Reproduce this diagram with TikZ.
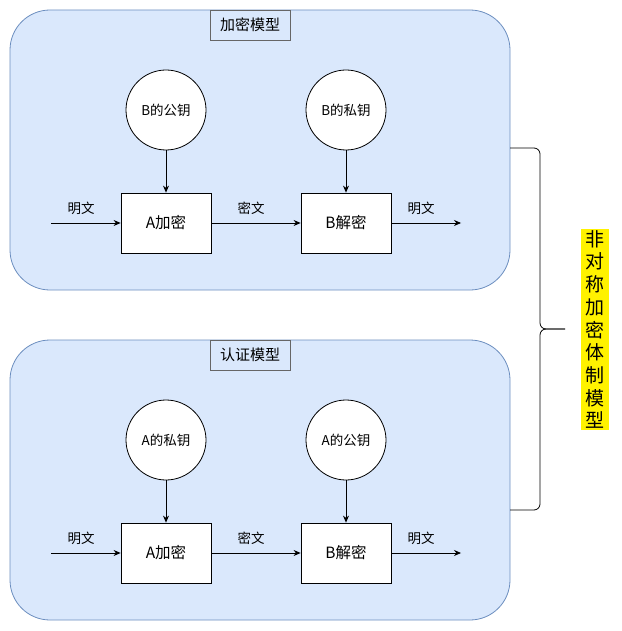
\documentclass[tikz,border=0pt]{standalone}
\usepackage{fontspec}
\setmainfont{Noto Sans CJK SC}
\usetikzlibrary{arrows.meta}
\definecolor{cfill}{HTML}{DAE8FC}
\definecolor{cline}{HTML}{6C8EBF}
\definecolor{tline}{HTML}{666666}
\tikzset{
  container/.style={draw=cline, fill=cfill, rounded corners=40pt, line width=0.8pt},
  titlebox/.style={draw=tline, fill=cfill, minimum width=80pt, minimum height=30pt, inner sep=0pt, font=\fontsize{15}{17}\selectfont, line width=0.8pt},
  keycirc/.style={draw, fill=white, circle, minimum size=80pt, inner sep=0pt, font=\fontsize{13.5}{15}\selectfont, line width=0.8pt},
  procbox/.style={draw, fill=white, minimum width=90pt, minimum height=60pt, inner sep=0pt, font=\fontsize{15.5}{17}\selectfont, line width=0.8pt},
  lbl/.style={font=\fontsize{13.5}{15}\selectfont, inner sep=0pt},
  arr/.style={-{Stealth[length=7pt,width=6pt]}, line width=0.8pt},
}
\begin{document}
\begin{tikzpicture}[x=1pt,y=-1pt]
\useasboundingbox (0,0) rectangle (621,631);
% top container
\draw[container] (10,10) rectangle (510,290);
\node[titlebox] (t1) at (250,25) {加密模型};
\node[keycirc] (k1) at (166,110) {B的公钥};
\node[keycirc] (k2) at (346,110) {B的私钥};
\node[procbox] (p1) at (166,223) {A加密};
\node[procbox] (p2) at (346,223) {B解密};
\coordinate (in1) at (51,223);
\coordinate (out1) at (461,223);
\draw[arr] (in1) -- (p1.west);
\draw[arr] (p1.east) -- (p2.west);
\draw[arr] (p2.east) -- (out1);
\draw[arr] (k1.south) -- (p1.north);
\draw[arr] (k2.south) -- (p2.north);
\node[lbl] (l1) at (81,208) {明文};
\node[lbl] (l2) at (251,208) {密文};
\node[lbl] (l3) at (421,208) {明文};
% bottom container
\draw[container] (10,340) rectangle (510,620);
\node[titlebox] (t2) at (250,355) {认证模型};
\node[keycirc] (k3) at (166,440) {A的私钥};
\node[keycirc] (k4) at (346,440) {A的公钥};
\node[procbox] (p3) at (166,553) {A加密};
\node[procbox] (p4) at (346,553) {B解密};
\coordinate (in2) at (51,553);
\coordinate (out2) at (461,553);
\draw[arr] (in2) -- (p3.west);
\draw[arr] (p3.east) -- (p4.west);
\draw[arr] (p4.east) -- (out2);
\draw[arr] (k3.south) -- (p3.north);
\draw[arr] (k4.south) -- (p4.north);
\node[lbl] (l4) at (81,538) {明文};
\node[lbl] (l5) at (251,538) {密文};
\node[lbl] (l6) at (421,538) {明文};
% brace
\coordinate (bt) at (510,148);
\coordinate (bb) at (510,510);
\coordinate (tip) at (565,329);
\draw[line width=0.8pt, rounded corners=6pt] (bt) -- (540,148) -- (540,329) -- (tip);
\draw[line width=0.8pt, rounded corners=6pt] (tip) -- (540,329) -- (540,510) -- (bb);
% yellow label
\node[fill=yellow, inner xsep=4.5pt, inner ysep=1.5pt, align=center, font=\fontsize{19}{22.7}\selectfont] (side) at (595,329.5) {非\\对\\称\\加\\密\\体\\制\\模\\型};
\end{tikzpicture}
\end{document}
